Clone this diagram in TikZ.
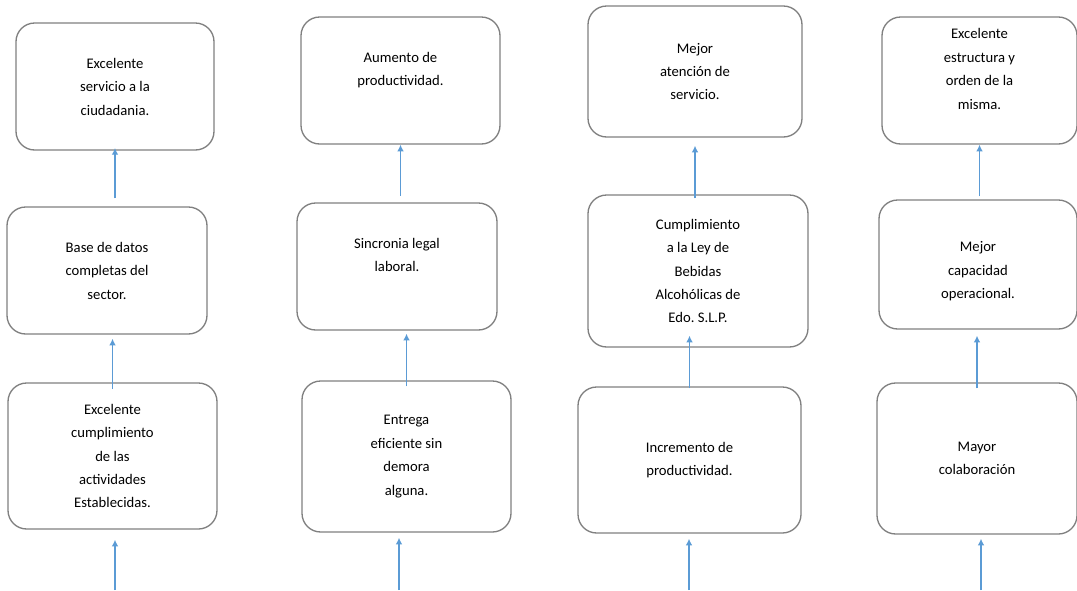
\documentclass[tikz,border=0pt]{standalone}
\usepackage{fontspec}
\setmainfont{Carlito}
\usepackage{tikz}
\usetikzlibrary{arrows.meta}
\definecolor{boxgray}{RGB}{128,128,128}
\definecolor{arrowblue}{RGB}{91,155,213}
\frenchspacing
\tikzset{%
	>={Latex[width=5pt,length=5pt]},
  	% Specifications for style of nodes:
	base/.style = {rectangle, rounded corners=14pt, draw=boxgray, line width=1pt,
				   align=center, text=black,
				   font=\fontsize{11pt}{17.6pt}\selectfont},
	flow/.style = {->, draw=arrowblue, line width=1.2pt},
}
\begin{document}
\begin{tikzpicture}[x=0.75pt, y=-0.75pt]

	\useasboundingbox (0,0) rectangle (1077,590);

  	% Specification of nodes (position, etc.)

	\node (servicio)    [base, minimum width=148.5pt, minimum height=95.25pt]  at (115,86.5)  {Excelente\\ servicio a la\\ ciudadania.};
	\node (datos)       [base, minimum width=150pt,   minimum height=95.25pt]  at (107,270.5) {Base de datos\\ completas del\\ sector.};
	\node (actividades) [base, minimum width=156.75pt, minimum height=109.5pt] at (112.5,456) {Excelente\\ cumplimiento\\ de las\\ actividades\\ Establecidas.};

	\node (aumento)     [base, minimum width=149.25pt, minimum height=95.25pt] at (400.5,80.5) {Aumento de\\ productividad.\\ \mbox{}};
	\node (sincronia)   [base, minimum width=150pt,   minimum height=95.25pt]  at (397,266.5) {Sincronia legal\\ laboral.\\ \mbox{}};
	\node (entrega)     [base, minimum width=156.75pt, minimum height=113.25pt] at (406.5,456.5) {Entrega\\ eficiente sin\\ demora\\ alguna.};

	\node (atencion)    [base, minimum width=160.5pt, minimum height=98.25pt]  at (695,71.5)  {Mejor\\ atención de\\ servicio.};
	\node (ley)         [base, minimum width=165pt,   minimum height=114pt]    at (698,271)   {Cumplimiento\\ a la Ley de\\ Bebidas\\ Alcohólicas de\\ Edo. S.L.P.};
	\node (incremento)  [base, minimum width=167.25pt, minimum height=109.5pt] at (689.5,460) {Incremento de\\ productividad.};

	\node (estructura)  [base, minimum width=146.25pt, minimum height=95.25pt] at (979.5,80.5) {Excelente\\ estructura y\\ orden de la\\ misma.\\ \mbox{}};
	\node (capacidad)   [base, minimum width=148.5pt, minimum height=96.75pt]  at (978,264.5) {\mbox{}\\ Mejor\\ capacidad\\ operacional.};
	\node (colaboracion)[base, minimum width=150pt,   minimum height=113.25pt] at (977,458.5) {Mayor\\ colaboración};

	\coordinate (in1) at (115,590);
	\coordinate (in2) at (399,590);
	\coordinate (in3) at (689,590);
	\coordinate (in4) at (981,590);

    % Specification of lines between nodes specified above

	\draw[flow, shorten >=7.5pt] (in1) -- (in1 |- actividades.south);
	\draw[flow, shorten >=3pt]   ([yshift=-5pt]actividades.north) -- (actividades.north |- datos.south);
	\draw[flow, shorten >=-2pt]  ([yshift=6pt]datos.north -| servicio.south) -- (servicio.south);

	\draw[flow, shorten >=3.75pt] (in2) -- (in2 |- entrega.south);
	\draw[flow, shorten >=2.25pt] ([yshift=-4.5pt]entrega.north) -- (entrega.north |- sincronia.south);
	\draw[flow]                   ([yshift=5pt]sincronia.north -| aumento.south) -- (aumento.south);

	\draw[flow, shorten >=3.75pt] (in3) -- (in3 |- incremento.south);
	\draw[flow, shorten >=-9pt]   ([yshift=-1.5pt]incremento.north) -- (incremento.north |- ley.south);
	\draw[flow, shorten >=6pt]    ([yshift=-3pt]ley.north -| atencion.south) -- (atencion.south);

	\draw[flow, shorten >=3pt]    (in4) -- (in4 |- colaboracion.south);
	\draw[flow, shorten >=4.5pt]  ([yshift=-4.5pt]colaboracion.north) -- (colaboracion.north |- capacidad.south);
	\draw[flow]                   ([yshift=2.25pt]capacidad.north -| estructura.south) -- (estructura.south);

\end{tikzpicture}
\end{document}
